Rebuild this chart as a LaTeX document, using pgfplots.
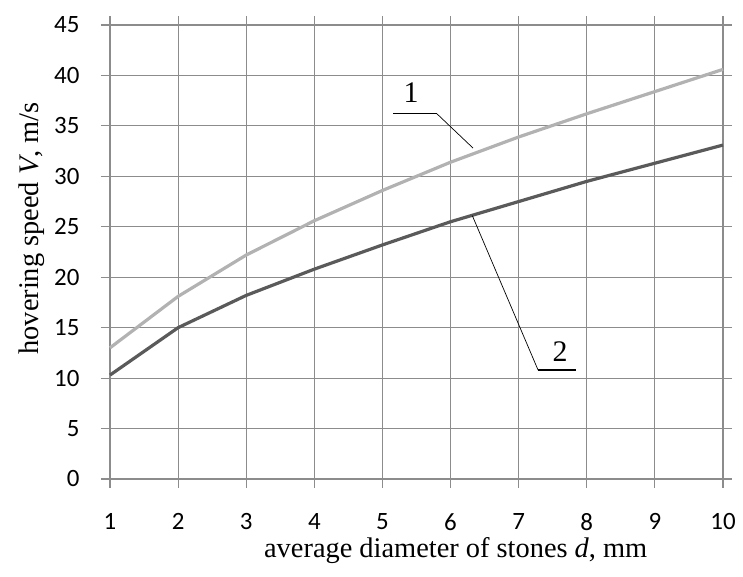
\documentclass[border=0pt]{standalone}
\usepackage{fontspec}
\setmainfont{Liberation Serif}
\newfontfamily\tickfont{Carlito}
\usepackage{pgfplots}
\pgfplotsset{compat=1.18}
\definecolor{gridc}{RGB}{140,140,140}
\definecolor{cone}{RGB}{178,178,178}
\definecolor{ctwo}{RGB}{90,90,90}
\begin{document}
\begin{tikzpicture}
\useasboundingbox (-110bp,-98bp) rectangle (633bp,479bp);
\begin{axis}[
  scale only axis, width=613bp, height=454bp,
  xmin=1, xmax=10, ymin=0, ymax=45,
  xtick={1,2,...,10}, ytick={0,5,...,45},
  grid=major,
  grid style={color=gridc, line width=1.1bp},
  axis line style={color=gridc, line width=1.1bp},
  tick style={color=gridc, line width=1.1bp},
  tick align=outside, major tick length=9bp,
  /pgf/number format/assume math mode=true,
  ticklabel style={font=\tickfont\fontsize{25}{25}\selectfont, text=black},
  yticklabel style={xshift=-18bp},
  xticklabel style={yshift=-22bp},
  xlabel={average diameter of stones \textit{d}, mm},
  ylabel={hovering speed \textit{V}, m/s},
  label style={font=\fontsize{28.5}{28.5}\selectfont},
  xlabel style={at={(axis description cs:0.564,-0.158)}, anchor=center},
  ylabel style={at={(axis description cs:-0.127,0.552)}, anchor=center, rotate=0},
  clip=false,
]
\addplot[color=cone, line width=3.2bp] coordinates {
  (1,13.0) (2,18.1) (3,22.2) (4,25.6) (5,28.6) (6,31.4) (7,33.9) (8,36.2) (9,38.4) (10,40.6)};
\addplot[color=ctwo, line width=3.2bp] coordinates {
  (1,10.3) (2,15.0) (3,18.2) (4,20.8) (5,23.2) (6,25.5) (7,27.5) (8,29.5) (9,31.3) (10,33.1)};
\draw[black, line width=1.2bp] (axis cs:5.156,36.2) -- (axis cs:5.80,36.2);
\draw[black, line width=0.7bp] (axis cs:5.80,36.2) -- (axis cs:6.33,32.8);
\node[font=\fontsize{30}{30}\selectfont, anchor=base] at (axis cs:5.42,37.3) {1};
\draw[black, line width=1.2bp] (axis cs:7.285,10.8) -- (axis cs:7.84,10.8);
\draw[black, line width=0.7bp] (axis cs:7.285,10.8) -- (axis cs:6.32,26.1);
\node[font=\fontsize{30}{30}\selectfont, anchor=base] at (axis cs:7.61,11.6) {2};
\end{axis}
\end{tikzpicture}
\end{document}
